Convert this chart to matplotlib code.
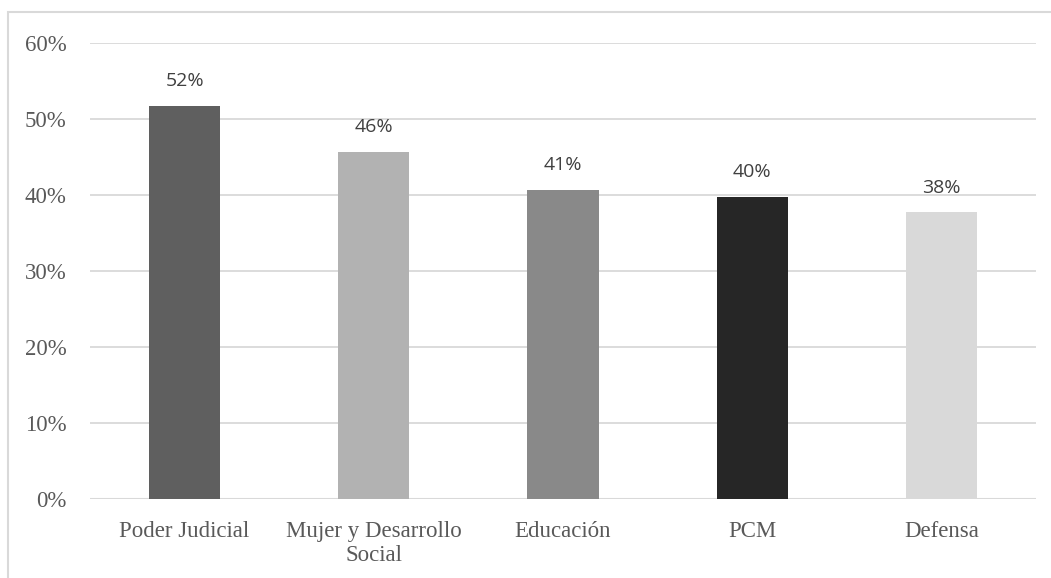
import matplotlib.pyplot as plt
from matplotlib.patches import Rectangle
from matplotlib.ticker import PercentFormatter

# datos
categorias = ['Poder Judicial', 'Mujer y Desarrollo\nSocial', 'Educación', 'PCM', 'Defensa']
valores = [0.517, 0.457, 0.407, 0.397, 0.377]
colores = ['#5f5f5f', '#b2b2b2', '#898989', '#262626', '#d9d9d9']

fig = plt.figure(figsize=(10.51, 5.78), dpi=100)
ax = fig.add_axes([90 / 1051, 1 - 499 / 578, 946 / 1051, 456 / 578])

x = range(len(categorias))
bars = ax.bar(x, valores, width=0.376, color=colores, zorder=3)

for b, v in zip(bars, valores):
    ax.text(b.get_x() + b.get_width() / 2, v + 0.021, f'{round(v * 100):.0f}%',
            ha='center', va='bottom', fontsize=14, color='#404040',
            family='Open Sans', zorder=4)

ax.set_xlim(-0.5, len(categorias) - 0.5)
ax.set_ylim(0, 0.6)
ax.set_yticks([0, 0.1, 0.2, 0.3, 0.4, 0.5, 0.6])
ax.yaxis.set_major_formatter(PercentFormatter(1.0, decimals=0))
ax.set_xticks(list(x))
ax.set_xticklabels(categorias, linespacing=1.2)

for lab in ax.get_xticklabels() + ax.get_yticklabels():
    lab.set_family('Liberation Serif')
    lab.set_fontsize(16.5)
    lab.set_color('#595959')

ax.tick_params(axis='y', length=0, pad=17)
ax.tick_params(axis='x', length=0, pad=16)
ax.grid(axis='y', color='#d9d9d9', linewidth=1.3, zorder=0)
for s in ax.spines.values():
    s.set_visible(False)
ax.axhline(0, color='#d9d9d9', linewidth=1.5, zorder=2)

# marco del grafico
fig.patches.append(Rectangle((8 / 1051, -0.05), 1.2, 1.05 - 12 / 578,
                             transform=fig.transFigure, fill=False,
                             edgecolor='#d9d9d9', linewidth=1.5))

fig.savefig('out.png', dpi=100)
